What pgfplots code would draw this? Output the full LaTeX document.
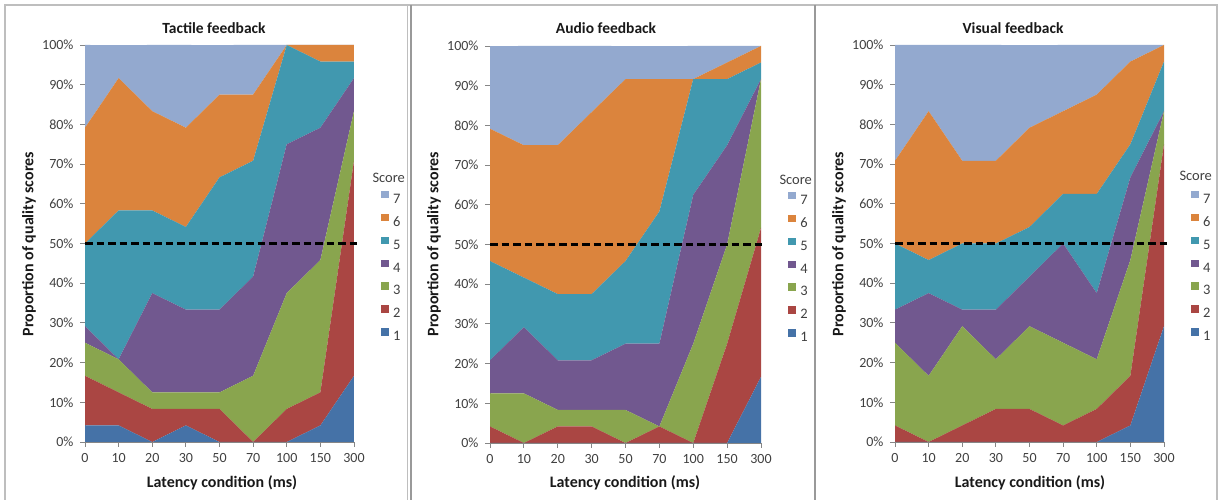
\documentclass[border=0pt]{standalone}
\usepackage{fontspec}
\setmainfont{Carlito}
\usepackage{pgfplots}
\usepackage{pgfplotstable}
\pgfplotsset{compat=1.18}

\definecolor{sOne}{RGB}{69,114,167}
\definecolor{sTwo}{RGB}{170,70,67}
\definecolor{sThree}{RGB}{137,165,78}
\definecolor{sFour}{RGB}{113,88,143}
\definecolor{sFive}{RGB}{65,152,175}
\definecolor{sSix}{RGB}{219,132,61}
\definecolor{sSeven}{RGB}{147,169,207}
\definecolor{axgray}{RGB}{134,134,134}
\definecolor{tickgray}{RGB}{64,64,64}
\definecolor{framegray}{RGB}{190,190,190}

% Share of quality scores (percent of 24 ratings) per latency condition
% columns: x index, score 1 ... score 7
\pgfplotstableread{
x  s1    s2    s3    s4    s5    s6    s7
0  4.17  12.5  8.33  4.17  20.83 29.17 20.83
1  4.17  8.33  8.33  0     37.5  33.33 8.33
2  0     8.33  4.17  25    20.83 25    16.67
3  4.17  4.17  4.17  20.83 20.83 25    20.83
4  0     8.33  4.17  20.83 33.33 20.83 12.5
5  0     0     16.67 25    29.17 16.67 12.5
6  0     8.33  29.17 37.5  25    0     0
7  4.17  8.33  33.33 33.33 16.67 4.17  0
8  16.67 54.17 12.5  8.33  4.17  4.17  0
}\tactile

\pgfplotstableread{
x  s1    s2    s3    s4    s5    s6    s7
0  0     4.17  8.33  8.33  25    33.33 20.83
1  0     0     12.5  16.67 12.5  33.33 25
2  0     4.17  4.17  12.5  16.67 37.5  25
3  0     4.17  4.17  12.5  16.67 45.83 16.67
4  0     0     8.33  16.67 20.83 45.83 8.33
5  0     4.17  0     20.83 33.33 33.33 8.33
6  0     0     25    37.5  29.17 0     8.33
7  0     25    25    25    16.67 4.17  4.17
8  16.67 37.5  37.5  0     4.17  4.17  0
}\audio

\pgfplotstableread{
x  s1    s2    s3    s4    s5    s6    s7
0  0     4.17  20.83 8.33  16.67 20.83 29.17
1  0     0     16.67 20.83 8.33  37.5  16.67
2  0     4.17  25    4.17  16.67 20.83 29.17
3  0     8.33  12.5  12.5  16.67 20.83 29.17
4  0     8.33  20.83 12.5  12.5  25    20.83
5  0     4.17  20.83 25    12.5  20.83 16.67
6  0     8.33  12.5  16.67 25    25    12.5
7  4.17  12.5  29.17 20.83 8.33  20.83 4.17
8  29.17 45.83 8.33  0     12.5  4.17  0
}\visual

\tikzset{fifty/.style={black, line width=2.4pt, dash pattern=on 7.5pt off 4pt}}

\pgfplotsset{
  panel/.style={
    scale only axis, width=269pt, height=397pt, anchor=south west,
    xmin=0, xmax=8, ymin=0, ymax=100,
    stack plots=y, clip=false,
    xtick={0,...,8}, xticklabels={0,10,20,30,50,70,100,150,300},
    ytick={0,10,...,100},
    yticklabel={\pgfmathprintnumber{\tick}\%},
    axis x line*=bottom, axis y line*=left,
    axis line style={draw=axgray, line width=0.8pt},
    tick style={draw=axgray, line width=0.8pt},
    tick align=outside, major tick length=5pt,
    ticklabel style={font=\fontsize{14}{16}\selectfont, text=tickgray},
    yticklabel style={xshift=-3pt},
    xticklabel style={yshift=-3pt},
    /pgf/number format/assume math mode=true,
    reverse legend,
    legend image code/.code={\fill[##1] (0pt,0.5pt) rectangle (7.5pt,8pt);},
    legend style={draw=none, fill=none, at={(1.100,0.633)}, anchor=north west,
      inner sep=0pt, row sep=9.9pt, column sep=4pt,
      font=\fontsize{14.5}{16}\selectfont, text=tickgray,
      nodes={text height=9pt, text depth=0pt, inner sep=0.5pt}},
  },
  sc1/.style={fill=sOne, draw=none},
  sc2/.style={fill=sTwo, draw=none},
  sc3/.style={fill=sThree, draw=none},
  sc4/.style={fill=sFour, draw=none},
  sc5/.style={fill=sFive, draw=none},
  sc6/.style={fill=sSix, draw=none},
  sc7/.style={fill=sSeven, draw=none},
}

% one stacked-area panel: #1 = data table
\newcommand{\stackedareas}[1]{%
  \addplot[sc1] table[x=x, y=s1] {#1} \closedcycle;
  \addplot[sc2] table[x=x, y=s2] {#1} \closedcycle;
  \addplot[sc3] table[x=x, y=s3] {#1} \closedcycle;
  \addplot[sc4] table[x=x, y=s4] {#1} \closedcycle;
  \addplot[sc5] table[x=x, y=s5] {#1} \closedcycle;
  \addplot[sc6] table[x=x, y=s6] {#1} \closedcycle;
  \addplot[sc7] table[x=x, y=s7] {#1} \closedcycle;
  \legend{1,2,3,4,5,6,7}
}

\begin{document}
\begin{tikzpicture}
\useasboundingbox (0,0) rectangle (1221pt,500pt);

% panel frames
\draw[framegray, line width=1.2pt] (5pt,-10pt) -- (5pt,495pt) -- (1217pt,495pt) -- (1217pt,-10pt);
\draw[framegray, line width=1.2pt] (407.5pt,495pt) -- (407.5pt,-10pt);
\draw[black!40, line width=1.6pt] (411pt,495pt) -- (411pt,-10pt);
\draw[black!40, line width=1.6pt] (815pt,495pt) -- (815pt,-10pt);

% Tactile
\begin{axis}[panel, at={(85pt,58pt)}]
  \stackedareas{\tactile}
\end{axis}
\draw[fifty] (85pt,256.5pt) -- (358pt,256.5pt);
\node[font=\bfseries\fontsize{15.5}{18}\selectfont, text=black!90] at (214pt,472pt) {Tactile feedback};
\node[rotate=90, font=\bfseries\fontsize{16}{18}\selectfont, text=black!90] at (29pt,256pt) {Proportion of quality scores};
\node[font=\bfseries\fontsize{16}{18}\selectfont, text=black!90] at (222pt,17pt) {Latency condition (ms)};
\node[anchor=west, font=\fontsize{14.5}{16}\selectfont, text=tickgray] at (369pt,322pt) {Score};

% Audio
\begin{axis}[panel, width=271pt, at={(490pt,57pt)}]
  \stackedareas{\audio}
\end{axis}
\draw[fifty] (490pt,255.5pt) -- (765pt,255.5pt);
\node[font=\bfseries\fontsize{15.5}{18}\selectfont, text=black!90] at (606pt,472pt) {Audio feedback};
\node[rotate=90, font=\bfseries\fontsize{16}{18}\selectfont, text=black!90] at (434pt,256pt) {Proportion of quality scores};
\node[font=\bfseries\fontsize{16}{18}\selectfont, text=black!90] at (625pt,17pt) {Latency condition (ms)};
\node[anchor=west, font=\fontsize{14.5}{16}\selectfont, text=tickgray] at (776pt,320pt) {Score};

% Visual
\begin{axis}[panel, at={(895pt,58pt)}]
  \stackedareas{\visual}
\end{axis}
\draw[fifty] (895pt,256.5pt) -- (1168pt,256.5pt);
\node[font=\bfseries\fontsize{15.5}{18}\selectfont, text=black!90] at (1013pt,472pt) {Visual feedback};
\node[rotate=90, font=\bfseries\fontsize{16}{18}\selectfont, text=black!90] at (839pt,256pt) {Proportion of quality scores};
\node[font=\bfseries\fontsize{16}{18}\selectfont, text=black!90] at (1030pt,17pt) {Latency condition (ms)};
\node[anchor=west, font=\fontsize{14.5}{16}\selectfont, text=tickgray] at (1176pt,324pt) {Score};
\end{tikzpicture}
\end{document}
